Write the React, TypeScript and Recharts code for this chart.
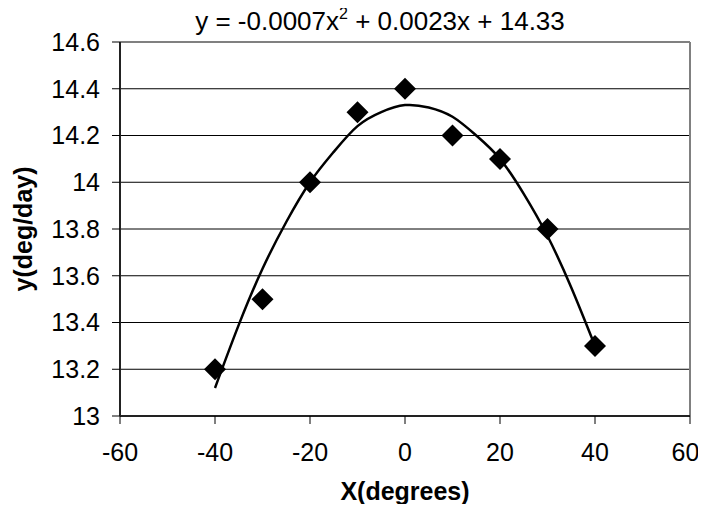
import {
  ComposedChart, Line, Scatter,
  XAxis, YAxis, CartesianGrid, ReferenceLine, Label,
} from 'recharts';

const xValues = [-40, -30, -20, -10, 0, 10, 20, 30, 40];
const yValues = [13.2, 13.5, 14.0, 14.3, 14.4, 14.2, 14.1, 13.8, 13.3];

// trendline
const trendX = [-40, -35, -30, -25, -20, -15, -10, -5, 0, 5, 10, 15, 20, 25, 30, 35, 40];
const trendY = [13.12, 13.39, 13.63, 13.83, 14.0, 14.13, 14.24, 14.3, 14.33, 14.32, 14.28, 14.2, 14.1, 13.95, 13.77, 13.55, 13.3];

const xTicks = [-60, -40, -20, 0, 20, 40, 60];
const yTicks = [13, 13.2, 13.4, 13.6, 13.8, 14, 14.2, 14.4, 14.6];

const points = xValues.map((x, i) => ({ x, y: yValues[i] }));
const trend = trendX.map((x, i) => ({ x, t: trendY[i] }));

const FONT = '"Liberation Sans", Arial, sans-serif';

const Diamond = (props: any) => {
  const { cx, cy } = props;
  const r = 11;
  return <polygon points={`${cx},${cy - r} ${cx + r},${cy} ${cx},${cy + r} ${cx - r},${cy}`} fill="#000" />;
};

export default function App() {
  return (
    <div style={{ position: 'relative', width: 690, height: 504, marginBottom: -8, fontFamily: FONT }}>
      <div style={{ position: 'absolute', left: 0, width: 744, top: -2, lineHeight: '30px', textAlign: 'center', fontSize: 26, color: '#000', whiteSpace: 'nowrap' }}>
        y = -0.0007x<span style={{ fontSize: 16, position: 'relative', top: -11 }}>2</span> + 0.0023x + 14.33
      </div>
      <ComposedChart width={690} height={504} margin={{ top: 34, right: 8, bottom: 0, left: 0 }}>
        <CartesianGrid vertical={false} stroke="#000" strokeWidth={1} />
        <XAxis type="number" dataKey="x" domain={[-60, 60]} ticks={xTicks} height={96}
          tick={{ fill: '#000', fontSize: 25, fontFamily: FONT }} tickSize={8} tickMargin={19}
          stroke="#000" axisLine={{ stroke: '#222', strokeWidth: 2 }} allowDataOverflow>
          <Label value="X(degrees)" position="insideBottom" offset={12}
            style={{ fontSize: 25, fontWeight: 'bold', fill: '#000', fontFamily: FONT }} />
        </XAxis>
        <YAxis type="number" domain={[13, 14.6]} ticks={yTicks} width={112}
          tick={{ fill: '#000', fontSize: 25, fontFamily: FONT }} tickSize={8} tickMargin={12}
          stroke="#000" axisLine={{ stroke: '#222', strokeWidth: 2 }} allowDataOverflow>
          <Label value="y(deg/day)" angle={-90} position="insideLeft" offset={15}
            style={{ fontSize: 25, fontWeight: 'bold', fill: '#000', fontFamily: FONT, textAnchor: 'middle' }} />
        </YAxis>
        <ReferenceLine y={14.6} stroke="#808080" strokeWidth={2} />
        <ReferenceLine x={60} stroke="#808080" strokeWidth={2} />
        <Line data={trend} dataKey="t" type="natural" stroke="#000" strokeWidth={2.5}
          dot={false} activeDot={false} isAnimationActive={false} />
        <Scatter data={points} dataKey="y" shape={Diamond} isAnimationActive={false} />
      </ComposedChart>
    </div>
  );
}
